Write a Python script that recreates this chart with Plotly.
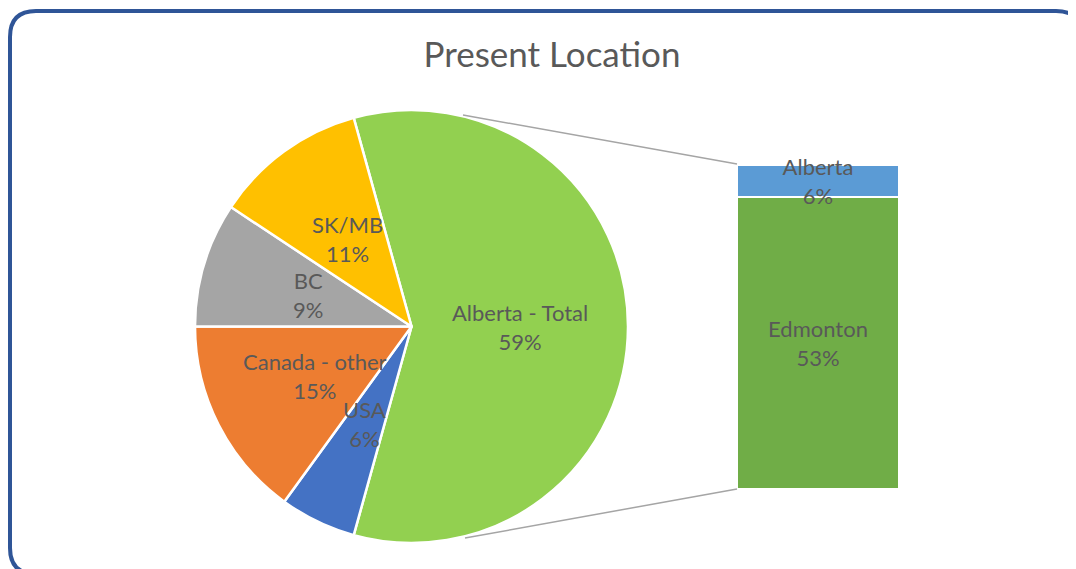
import math
import plotly.graph_objects as go

# ---- data ----
pie_labels = ["Alberta - Total", "USA", "Canada - other", "BC", "SK/MB"]
pie_values = [58.6, 5.7, 15.0, 9.3, 11.4]
pie_colors = ["#92D050", "#4472C4", "#ED7D31", "#A5A5A5", "#FFC000"]

bar_labels = ["Edmonton", "Alberta"]
bar_values = [52.9, 5.7]
bar_colors = ["#70AD47", "#5B9BD5"]

title_text = "Present Location"

OFF = 8  # page body margin
W, H = 1076 - OFF, 569 - OFF
FONT = "Lato, Calibri, 'Open Sans', sans-serif"
TXT = "#595959"

def px(x):
    return (x - OFF) / W

def py(y):
    return 1 - (y - OFF) / H

def pct(v, tot):
    return int(math.floor(v / tot * 100 + 0.5))

# pie geometry (window pixels)
cx, cy, R = 411.5, 326.5, 216.5
total = sum(pie_values)
first_span = pie_values[0] / total * 360
rotation = 90 - first_span / 2  # centre the first slice at 3 o'clock

fig = go.Figure()

fig.add_trace(go.Pie(
    labels=pie_labels, values=pie_values, sort=False, direction="clockwise",
    rotation=rotation,
    marker=dict(colors=pie_colors, line=dict(color="white", width=2.5)),
    textinfo="none", hoverinfo="label+percent", showlegend=False,
    domain=dict(x=[px(cx - R), px(cx + R)], y=[py(cy + R), py(cy - R)]),
))

# pie labels at half radius on each slice bisector
ang = rotation
for lab, v in zip(pie_labels, pie_values):
    span = v / total * 360
    mid = math.radians(ang + span / 2)
    lx = cx + 0.5 * R * math.sin(mid)
    ly = cy - 0.5 * R * math.cos(mid)
    fig.add_annotation(x=px(lx), y=py(ly), xref="paper", yref="paper",
                       text=f"{lab}<br>{pct(v, total)}%", showarrow=False,
                       font=dict(family=FONT, size=22, color=TXT),
                       xanchor="center", yanchor="middle")
    ang += span

# stacked bar
for lab, v, c in zip(bar_labels, bar_values, bar_colors):
    fig.add_trace(go.Bar(
        x=["Alberta - Total"], y=[v], name=lab, marker=dict(color=c, line=dict(color="white", width=2)),
        text=[f"{lab}<br>{pct(v, total)}%"], textposition="inside", insidetextanchor="middle",
        textangle=0, constraintext="none", cliponaxis=False,
        textfont=dict(family=FONT, size=22, color=TXT), showlegend=False,
        hoverinfo="name+y",
    ))

fig.update_layout(
    barmode="stack", bargap=0,
    width=W, height=H, margin=dict(l=0, r=0, t=0, b=0),
    paper_bgcolor="white", plot_bgcolor="rgba(0,0,0,0)",
    xaxis=dict(domain=[px(737), px(899)], visible=False, fixedrange=True),
    yaxis=dict(domain=[py(489), py(165)], range=[0, sum(bar_values)], visible=False, fixedrange=True),
    title=dict(text=title_text, x=px(552), xanchor="center", y=py(55), yanchor="middle",
               font=dict(family=FONT, size=35, color=TXT)),
)

# connector lines
line_style = dict(color="#A5A5A5", width=1.5)
fig.add_shape(type="line", xref="paper", yref="paper", x0=px(463), y0=py(115), x1=px(737), y1=py(164), line=line_style)
fig.add_shape(type="line", xref="paper", yref="paper", x0=px(465), y0=py(538), x1=px(737), y1=py(489), line=line_style)

# rounded border
L, T, Rr, B, r = 10, 11, 1082, 574, 26
path = (f"M {px(L + r)},{py(T)} L {px(Rr - r)},{py(T)} Q {px(Rr)},{py(T)} {px(Rr)},{py(T + r)} "
        f"L {px(Rr)},{py(B - r)} Q {px(Rr)},{py(B)} {px(Rr - r)},{py(B)} "
        f"L {px(L + r)},{py(B)} Q {px(L)},{py(B)} {px(L)},{py(B - r)} "
        f"L {px(L)},{py(T + r)} Q {px(L)},{py(T)} {px(L + r)},{py(T)} Z")
fig.add_shape(type="path", xref="paper", yref="paper", path=path,
              line=dict(color="#2F5597", width=4), layer="above")

fig.write_html("out.html")
